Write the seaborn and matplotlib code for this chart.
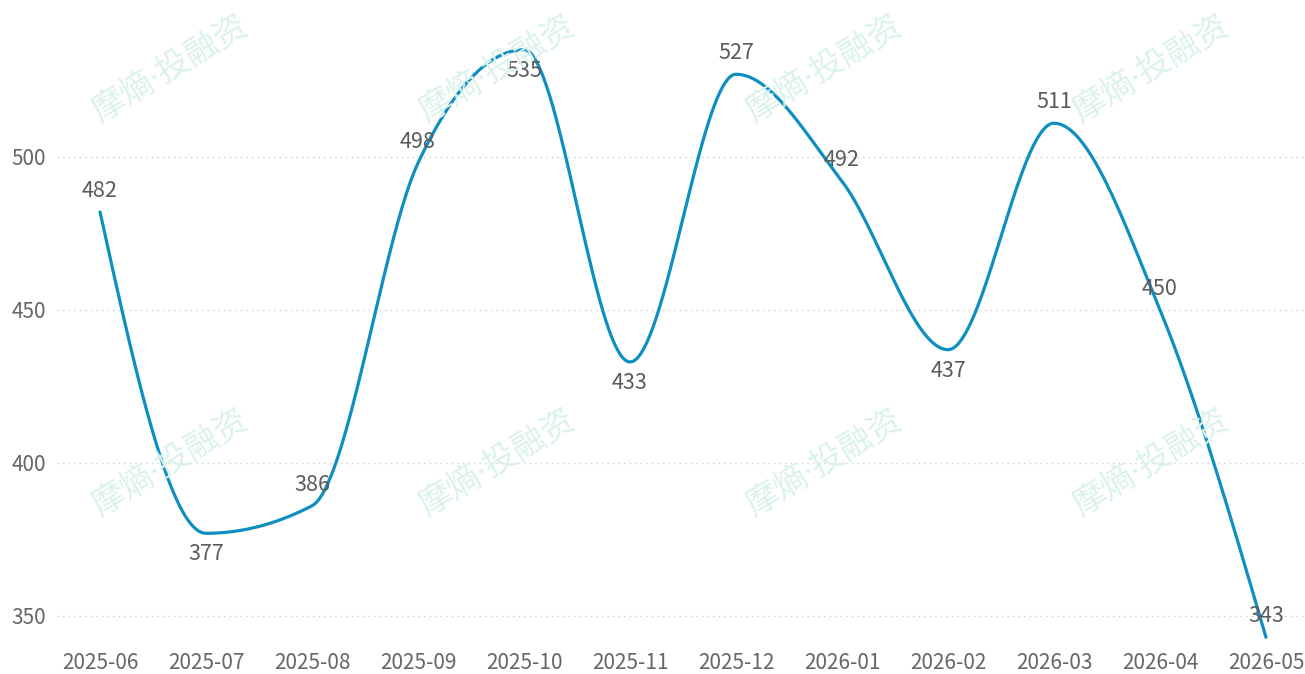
import numpy as np
import pandas as pd
import matplotlib
matplotlib.use("Agg")
import matplotlib.pyplot as plt
import seaborn as sns

months = ["2025-06", "2025-07", "2025-08", "2025-09", "2025-10", "2025-11",
          "2025-12", "2026-01", "2026-02", "2026-03", "2026-04", "2026-05"]
values = [482, 377, 386, 498, 535, 433, 527, 492, 437, 511, 450, 343]
y_ticks = [350, 400, 450, 500]

LINE_COLOR = "#0e8fc0"
TEXT_COLOR = "#666666"
LABEL_COLOR = "#5a5a5a"
FONT = ["Noto Sans CJK SC", "DejaVu Sans"]

sns.set_theme(style="white")
plt.rcParams["font.family"] = FONT

W, H = 1305, 674
fig = plt.figure(figsize=(W / 100, H / 100), dpi=100)
ax = fig.add_axes([57 / W, (H - 645) / H, (W - 57) / W, (645 - 10) / H])
ax.set_xlim(-0.406, 11.368)
ax.set_ylim(340.5, 548)

# watermark
for cx in [170, 497, 824, 1151]:
    for cy in [70, 464]:
        fig.text(cx / W, 1 - cy / H, "摩熵·投融资", rotation=31, fontsize=24,
                 color="#daf2eb", ha="center", va="center",
                 family=["Noto Sans", "Noto Sans CJK SC"], zorder=0)

xs = np.arange(len(values), dtype=float)
ys = np.array(values, dtype=float)
n = len(xs)

# monotone cubic (monotoneX) tangents
s = np.diff(ys) / np.diff(xs)
h = np.diff(xs)
tang = np.zeros(n)
for i in range(1, n - 1):
    s0, s1 = s[i - 1], s[i]
    p = (s0 * h[i] + s1 * h[i - 1]) / (h[i - 1] + h[i])
    tang[i] = (np.sign(s0) + np.sign(s1)) * min(abs(s0), abs(s1), 0.5 * abs(p))
tang[0] = (3 * s[0] - tang[1]) / 2
tang[-1] = (3 * s[-1] - tang[-2]) / 2

t = np.linspace(0, 1, 80)[:, None]
curve = []
for i in range(n - 1):
    dx = (xs[i + 1] - xs[i]) / 3
    p0 = np.array([xs[i], ys[i]])
    p1 = np.array([xs[i + 1], ys[i + 1]])
    c0 = np.array([xs[i] + dx, ys[i] + dx * tang[i]])
    c1 = np.array([xs[i + 1] - dx, ys[i + 1] - dx * tang[i + 1]])
    b = ((1 - t) ** 3) * p0 + 3 * ((1 - t) ** 2) * t * c0 + 3 * (1 - t) * t ** 2 * c1 + t ** 3 * p1
    curve.append(b)
curve = np.vstack(curve)
df = pd.DataFrame({"x": curve[:, 0], "y": curve[:, 1]})
sns.lineplot(data=df, x="x", y="y", sort=False, estimator=None, color=LINE_COLOR,
             linewidth=2.3, ax=ax, zorder=3)

# data labels
for i, v in enumerate(values):
    prev_v = values[i - 1] if i > 0 else None
    next_v = values[i + 1] if i < n - 1 else None
    is_min = prev_v is not None and next_v is not None and v < prev_v and v < next_v
    below = is_min or v == max(values)
    off = -21 if below else 21
    ax.annotate(str(v), (i, v), xytext=(0, off), textcoords="offset pixels",
                ha="center", va="center", fontsize=15.5, color=LABEL_COLOR,
                family=FONT, zorder=4, annotation_clip=False)

ax.set_xticks(xs)
ax.set_xticklabels(months)
ax.set_yticks(y_ticks)
ax.tick_params(axis="both", length=0, labelsize=15, colors=TEXT_COLOR)
ax.tick_params(axis="x", pad=5)
ax.tick_params(axis="y", pad=8)
ax.yaxis.grid(True, linestyle=(0, (1, 3)), color="#cfcfcf", linewidth=1)
ax.xaxis.grid(False)
for sp in ax.spines.values():
    sp.set_visible(False)
ax.set_xlabel("")
ax.set_ylabel("")
ax.patch.set_alpha(0)

fig.savefig("out.png", dpi=100)
